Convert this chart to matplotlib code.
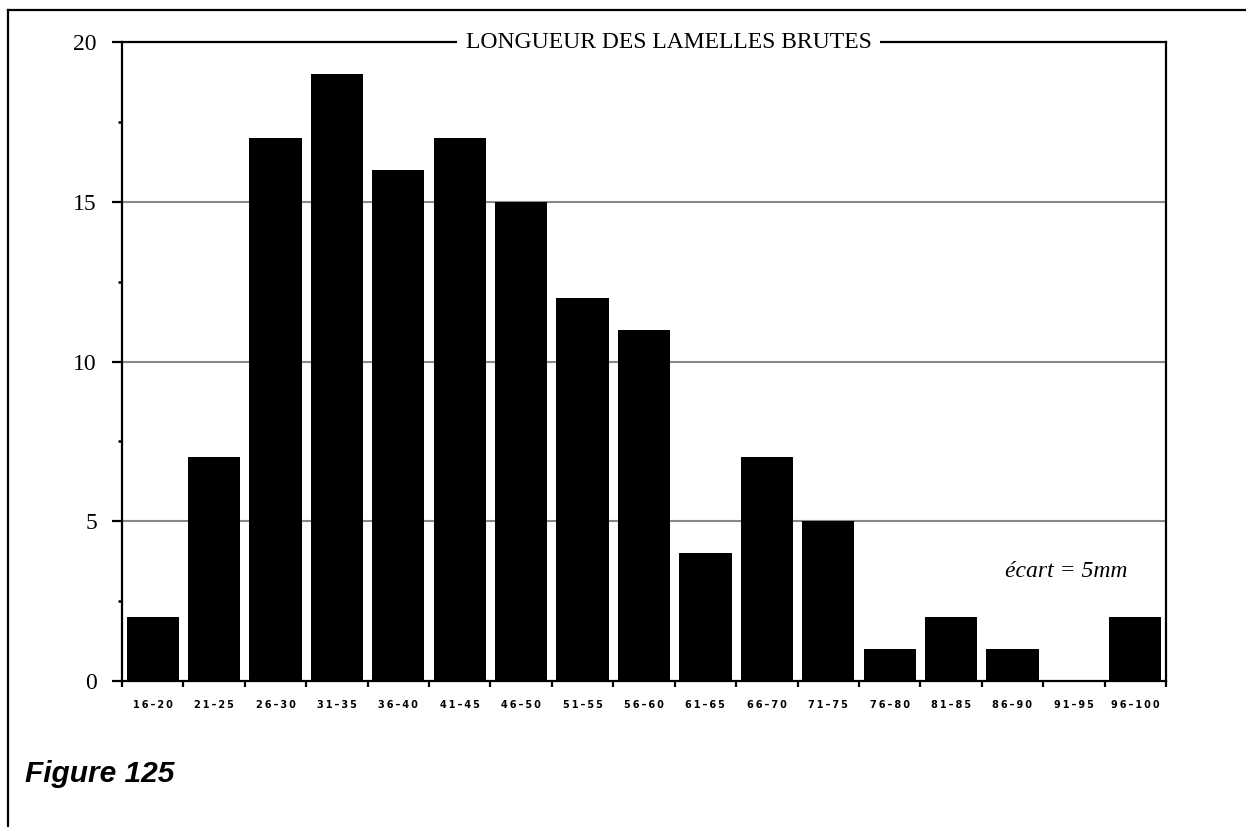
import numpy as np
import matplotlib
matplotlib.use("Agg")
import matplotlib.pyplot as plt
from matplotlib.lines import Line2D

# classes de longueur (mm) et effectifs
classes = ['16–20', '21–25', '26–30', '31–35', '36–40', '41–45', '46–50',
           '51–55', '56–60', '61–65', '66–70', '71–75', '76–80', '81–85',
           '86–90', '91–95', '96–100']
effectifs = [2, 7, 17, 19, 16, 17, 15, 12, 11, 4, 7, 5, 1, 2, 1, 0, 2]

serif = 'Liberation Serif'

fig = plt.figure(figsize=(12.46, 8.27), dpi=100)
ax = fig.add_axes([0.0979, 0.1765, 0.8379, 0.7727])

x = np.arange(len(classes))
ax.bar(x, effectifs, width=0.85, color='black', zorder=3)

ax.set_xlim(-0.5, len(classes) - 0.5)
ax.set_ylim(0, 20)

# grille horizontale grise
for g in [5, 10, 15]:
    ax.axhline(g, color='#888888', lw=1.5, zorder=1)

for s in ax.spines.values():
    s.set_linewidth(1.6)
    s.set_color('black')

# axe y
ax.set_yticks([0, 5, 10, 15, 20])
ax.set_yticks(np.arange(2.5, 20, 5), minor=True)
ax.tick_params(axis='y', which='major', direction='out', length=7, width=1.6,
               pad=11, labelsize=17)
ax.tick_params(axis='y', which='minor', direction='out', length=3, width=1.8)
for lab in ax.get_yticklabels():
    lab.set_fontfamily(serif)

# axe x : traits aux limites de classe, étiquettes au centre
ax.set_xticks(np.arange(-0.5, len(classes), 1.0))
ax.set_xticklabels([])
ax.set_xticks(x, minor=True)
spaced = ['\u2009'.join(c) for c in classes]
ax.set_xticklabels(spaced, minor=True)
ax.tick_params(axis='x', which='major', direction='out', length=4, width=1.6)
ax.tick_params(axis='x', which='minor', length=0, pad=14, labelsize=7)
for lab in ax.get_xticklabels(minor=True):
    lab.set_fontfamily('DejaVu Sans')
    lab.set_fontweight('bold')

# titre posé sur le bord supérieur
ax.text(0.5235, 1.0, 'LONGUEUR DES LAMELLES BRUTES', transform=ax.transAxes,
        ha='center', va='center', fontsize=17, family=serif, zorder=5,
        bbox=dict(facecolor='white', edgecolor='none', pad=6))

ax.text(0.904, 0.171, 'écart = 5mm', transform=ax.transAxes, ha='center',
        va='center', fontsize=17, family=serif, style='italic')

fig.text(0.02, 0.055, 'Figure 125', fontsize=21.5, family='Liberation Sans',
         weight='bold', style='italic', va='baseline')

# cadre extérieur (gauche et haut)
fig.add_artist(Line2D([8 / 1246, 8 / 1246], [0, 1 - 10 / 827],
                      transform=fig.transFigure, color='black', lw=1.6))
fig.add_artist(Line2D([8 / 1246, 1], [1 - 10 / 827, 1 - 10 / 827],
                      transform=fig.transFigure, color='black', lw=1.6))

fig.savefig('out.png', dpi=100)
